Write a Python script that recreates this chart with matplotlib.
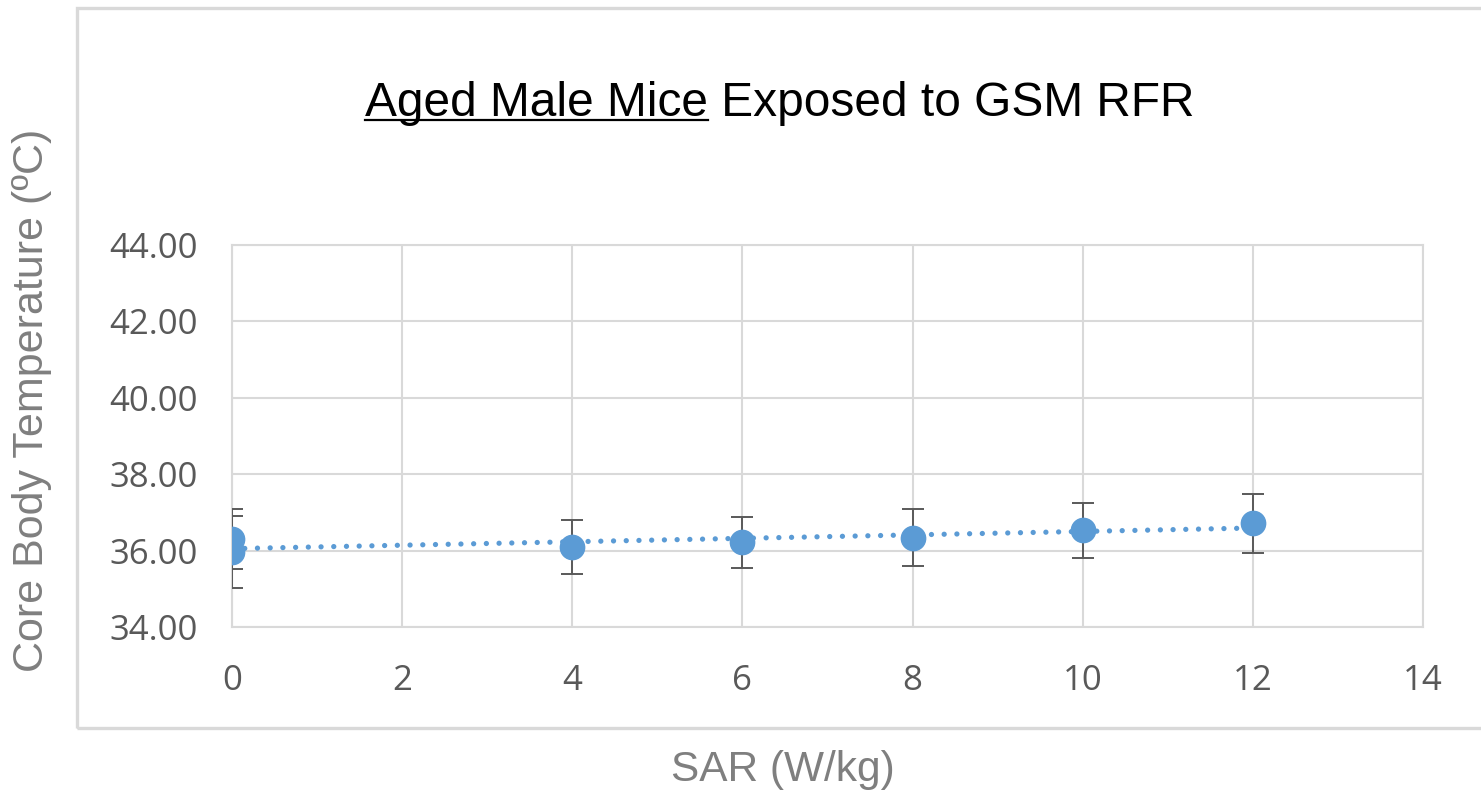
import numpy as np
import matplotlib
matplotlib.use("Agg")
import matplotlib.pyplot as plt
from matplotlib.patches import Rectangle
from matplotlib.lines import Line2D

# values
sar = [0, 0, 4, 6, 8, 10, 12]
temp = [36.30, 35.96, 36.10, 36.22, 36.34, 36.53, 36.71]
err = [0.78, 0.95, 0.71, 0.67, 0.75, 0.72, 0.77]
xticks = [0, 2, 4, 6, 8, 10, 12, 14]
yticks = [34, 36, 38, 40, 42, 44]

blue = '#5b9bd5'
grid = '#d9d9d9'
tickc = '#595959'
labc = '#7f7f7f'

plt.rcParams['font.family'] = ['Liberation Sans', 'DejaVu Sans']

fig = plt.figure(figsize=(14.81, 7.91), dpi=100)
ax = fig.add_axes([232/1481, 1-627/791, (1423-232)/1481, (627-245)/791])

# outer chart frame
fig.patches.append(Rectangle((77/1481, 1-728/791), 1.0, (728-8)/791,
                             transform=fig.transFigure, fill=False,
                             edgecolor=grid, linewidth=2.4, clip_on=False))

# linear trendline
coef = np.polyfit(sar, temp, 1)
tx = np.array([min(sar), max(sar)])
ax.plot(tx, np.polyval(coef, tx), color=blue, linewidth=3.8,
        linestyle=(0, (0.01, 2.4)), dash_capstyle='round', zorder=2)

ax.errorbar(sar, temp, yerr=err, fmt='o', color=blue, markersize=17.5,
            ecolor=tickc, elinewidth=1.4, capsize=8, capthick=1.4, zorder=3)

ax.set_xlim(0, 14)
ax.set_ylim(34, 44)
ax.set_xticks(xticks)
ax.set_yticks(yticks)
ax.set_yticklabels([f'{v:.2f}' for v in yticks])
ax.grid(True, color=grid, linewidth=1.5)
ax.set_axisbelow(True)
for s in ax.spines.values():
    s.set_color(grid)
    s.set_linewidth(1.5)
ax.tick_params(length=0, colors=tickc, labelsize=25)
ax.tick_params(axis='x', pad=26.5)
ax.tick_params(axis='y', pad=24.5)
for lab in ax.get_xticklabels() + ax.get_yticklabels():
    lab.set_family(['Open Sans', 'DejaVu Sans'])

fig.text(783/1481, 1-770/791, 'SAR (W/kg)', ha='center', va='center',
         fontsize=30.5, color=labc)
fig.text(32/1481, 1-400/791, 'Core Body Temperature (ºC)', ha='center',
         va='center', rotation=90, fontsize=31, color=labc)

# title with underlined first part
tx0 = 365/1481
tyb = 1-116/791
title = fig.text(tx0, tyb, 'Aged Male Mice Exposed to GSM RFR', ha='left',
                 va='baseline', fontsize=34.5, color='black')
fig.canvas.draw()
r = fig.canvas.get_renderer()
tmp = fig.text(tx0, tyb, 'Aged Male Mice', ha='left', va='baseline', fontsize=34.5)
bb = tmp.get_window_extent(r)
tmp.remove()
fig.lines.append(Line2D([bb.x0/1481, bb.x1/1481], [1-120/791, 1-120/791],
                        transform=fig.transFigure, color='black', linewidth=1.6))

fig.savefig('out.png', dpi=100)
